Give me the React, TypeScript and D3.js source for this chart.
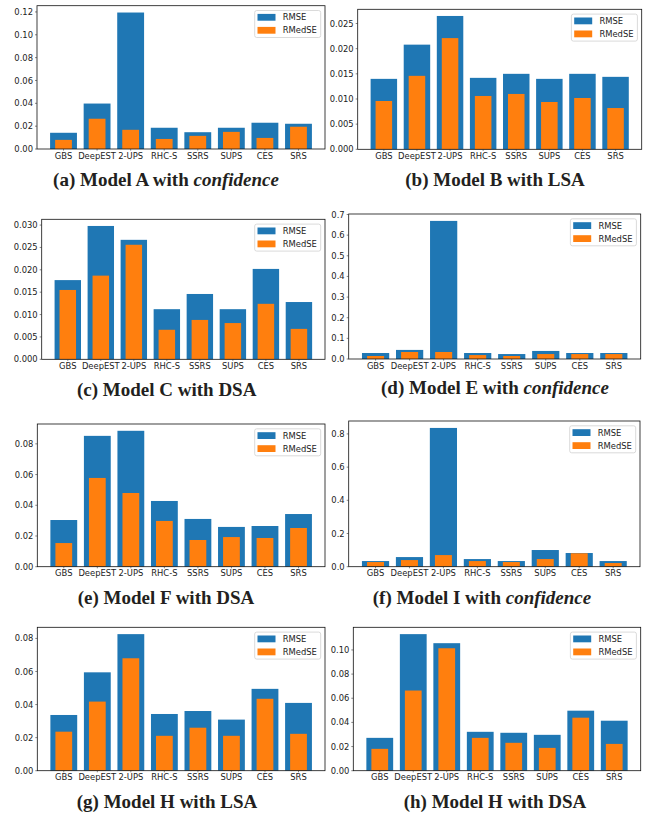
import { scaleLinear, max } from "d3";

// categories shared by every panel
const categories = ["GBS", "DeepEST", "2-UPS", "RHC-S", "SSRS", "SUPS", "CES", "SRS"];
const seriesNames = ["RMSE", "RMedSE"];

// (a) Model A with confidence
const rmseA = [0.0142, 0.0398, 0.1195, 0.0186, 0.0147, 0.0186, 0.023, 0.0221];
const rmedseA = [0.008, 0.0265, 0.0168, 0.0088, 0.0115, 0.015, 0.0097, 0.0195];
const ticksA = ["0.00", "0.02", "0.04", "0.06", "0.08", "0.10", "0.12"];

// (b) Model B with LSA
const rmseB = [0.014, 0.0208, 0.0265, 0.0142, 0.015, 0.014, 0.015, 0.0144];
const rmedseB = [0.0096, 0.0146, 0.0221, 0.0106, 0.011, 0.0094, 0.0102, 0.0082];
const ticksB = ["0.000", "0.005", "0.010", "0.015", "0.020", "0.025"];

// (c) Model C with DSA
const rmseC = [0.0177, 0.0298, 0.0267, 0.0112, 0.0146, 0.0112, 0.0202, 0.0128];
const rmedseC = [0.0155, 0.0187, 0.0256, 0.0066, 0.0088, 0.0081, 0.0124, 0.0068];
const ticksC = ["0.000", "0.005", "0.010", "0.015", "0.020", "0.025", "0.030"];

// (d) Model E with confidence
const rmseD = [0.029, 0.044, 0.669, 0.029, 0.024, 0.039, 0.029, 0.029];
const rmedseD = [0.0145, 0.034, 0.034, 0.019, 0.0145, 0.024, 0.024, 0.024];
const ticksD = ["0.0", "0.1", "0.2", "0.3", "0.4", "0.5", "0.6", "0.7"];

// (e) Model F with DSA
const rmseE = [0.0304, 0.0852, 0.0885, 0.0428, 0.0311, 0.0259, 0.0265, 0.0343];
const rmedseE = [0.0154, 0.0578, 0.048, 0.0298, 0.0174, 0.0193, 0.0187, 0.0252];
const ticksE = ["0.00", "0.02", "0.04", "0.06", "0.08"];

// (f) Model I with confidence
const rmseF = [0.034, 0.058, 0.836, 0.046, 0.034, 0.1005, 0.0824, 0.034];
const rmedseF = [0.028, 0.04, 0.07, 0.034, 0.028, 0.046, 0.081, 0.022];
const ticksF = ["0.0", "0.2", "0.4", "0.6", "0.8"];

// (g) Model H with LSA
const rmseG = [0.0337, 0.0595, 0.0826, 0.0343, 0.0361, 0.0309, 0.0495, 0.041];
const rmedseG = [0.0236, 0.0418, 0.068, 0.0211, 0.026, 0.0211, 0.0435, 0.0223];
const ticksG = ["0.00", "0.02", "0.04", "0.06", "0.08"];

// (h) Model H with DSA
const rmseH = [0.0272, 0.1131, 0.1056, 0.0322, 0.0314, 0.0297, 0.0497, 0.0414];
const rmedseH = [0.0181, 0.0664, 0.1014, 0.0272, 0.0231, 0.0189, 0.0439, 0.0222];
const ticksH = ["0.00", "0.02", "0.04", "0.06", "0.08", "0.10"];

const captionHeads = [
    "(a) Model A with ",
    "(b) Model B with LSA",
    "(c) Model C with DSA",
    "(d) Model E with ",
    "(e) Model F with DSA",
    "(f) Model I with ",
    "(g) Model H with LSA",
    "(h) Model H with DSA",
];
const captionItalics = ["confidence", "", "", "confidence", "", "confidence", "", ""];

const panelData = [
    { rmse: rmseA, rmedse: rmedseA, ticks: ticksA },
    { rmse: rmseB, rmedse: rmedseB, ticks: ticksB },
    { rmse: rmseC, rmedse: rmedseC, ticks: ticksC },
    { rmse: rmseD, rmedse: rmedseD, ticks: ticksD },
    { rmse: rmseE, rmedse: rmedseE, ticks: ticksE },
    { rmse: rmseF, rmedse: rmedseF, ticks: ticksF },
    { rmse: rmseG, rmedse: rmedseG, ticks: ticksG },
    { rmse: rmseH, rmedse: rmedseH, ticks: ticksH },
];

// axes boxes + caption anchors, in page pixels
const layout = [
    { left: 37, right: 325, top: 5.7, bottom: 149, capX: 166, capY: 185.7 },
    { left: 357.7, right: 641.7, top: 9.3, bottom: 149.3, capX: 495, capY: 185.7 },
    { left: 41.7, right: 325, top: 219.3, bottom: 359.3, capX: 166.7, capY: 395.7 },
    { left: 348.7, right: 640.7, top: 214, bottom: 359, capX: 495, capY: 394.3 },
    { left: 37.3, right: 325, top: 424, bottom: 566.7, capX: 166, capY: 603.7 },
    { left: 348.7, right: 640, top: 421, bottom: 566.7, capX: 482, capY: 603.7 },
    { left: 37.3, right: 325, top: 627.3, bottom: 770.7, capX: 167, capY: 807.7 },
    { left: 353.3, right: 640.7, top: 627.3, bottom: 770.7, capX: 495, capY: 807.7 },
];

const BLUE = "#1f77b4";
const ORANGE = "#ff7f0e";
const TICK_FONT = "'DejaVu Sans', sans-serif";
const FS = 8.4;

function Panel({ idx }: { idx: number }) {
    const { rmse, rmedse, ticks } = panelData[idx];
    const box = layout[idx];
    const n = categories.length;
    const pad = 0.05 * (n - 1 + 0.8);

    const x = scaleLinear()
        .domain([-0.4 - pad, n - 1 + 0.4 + pad])
        .range([box.left, box.right]);
    const y = scaleLinear()
        .domain([0, (max(rmse) ?? 0) * 1.05])
        .range([box.bottom, box.top]);

    const unit = x(1) - x(0);
    const legX = box.right - 4.3 - 66;
    const legY = box.top + 4.8;

    return (
        <g>
            {/* RMSE bars (wide) */}
            {rmse.map((v, i) => (
                <rect
                    key={`r${i}`}
                    x={x(i) - 0.4 * unit}
                    width={0.8 * unit}
                    y={y(v)}
                    height={y(0) - y(v)}
                    fill={BLUE}
                />
            ))}
            {/* RMedSE bars (narrow, on top) */}
            {rmedse.map((v, i) => (
                <rect
                    key={`m${i}`}
                    x={x(i) - 0.25 * unit}
                    width={0.5 * unit}
                    y={y(v)}
                    height={y(0) - y(v)}
                    fill={ORANGE}
                />
            ))}

            {/* frame */}
            <rect
                x={box.left}
                y={box.top}
                width={box.right - box.left}
                height={box.bottom - box.top}
                fill="none"
                stroke="#111"
                strokeWidth={0.8}
            />

            {/* y ticks */}
            {ticks.map((t) => {
                const ty = y(parseFloat(t));
                return (
                    <g key={t}>
                        <line x1={box.left - 2} x2={box.left} y1={ty} y2={ty} stroke="#333" strokeWidth={0.6} />
                        <text
                            x={box.left - 4}
                            y={ty}
                            dy="0.36em"
                            textAnchor="end"
                            fontFamily={TICK_FONT}
                            fontSize={FS}
                            fill="#222"
                        >
                            {t}
                        </text>
                    </g>
                );
            })}

            {/* x ticks */}
            {categories.map((c, i) => (
                <g key={c}>
                    <line x1={x(i)} x2={x(i)} y1={box.bottom} y2={box.bottom + 1.6} stroke="#333" strokeWidth={0.6} />
                    <text
                        x={x(i)}
                        y={box.bottom + 9.6}
                        textAnchor="middle"
                        fontFamily={TICK_FONT}
                        fontSize={FS}
                        fill="#222"
                    >
                        {c}
                    </text>
                </g>
            ))}

            {/* legend */}
            <rect
                x={legX}
                y={legY}
                width={66}
                height={27}
                rx={2}
                fill="white"
                fillOpacity={0.8}
                stroke="#d0d0d0"
                strokeWidth={0.8}
            />
            {seriesNames.map((s, i) => (
                <g key={s}>
                    <rect x={legX + 2.8} y={legY + 3.4 + i * 13} width={18} height={6.8} fill={i === 0 ? BLUE : ORANGE} />
                    <text
                        x={legX + 28}
                        y={legY + 6.8 + i * 13}
                        dy="0.36em"
                        fontFamily={TICK_FONT}
                        fontSize={FS}
                        fill="#222"
                    >
                        {s}
                    </text>
                </g>
            ))}

            {/* caption */}
            <text
                x={box.capX}
                y={box.capY}
                textAnchor="middle"
                fontFamily="'Liberation Serif', serif"
                fontWeight="bold"
                fontSize={19}
                fill="#231f20"
            >
                {captionHeads[idx]}
                {captionItalics[idx] && <tspan fontStyle="italic">{captionItalics[idx]}</tspan>}
            </text>
        </g>
    );
}

export default function App() {
    return (
        <svg
            width={646}
            height={816}
            style={{ position: "absolute", left: 0, top: 0, background: "white" }}
        >
            {panelData.map((_, i) => (
                <Panel key={i} idx={i} />
            ))}
        </svg>
    );
}
